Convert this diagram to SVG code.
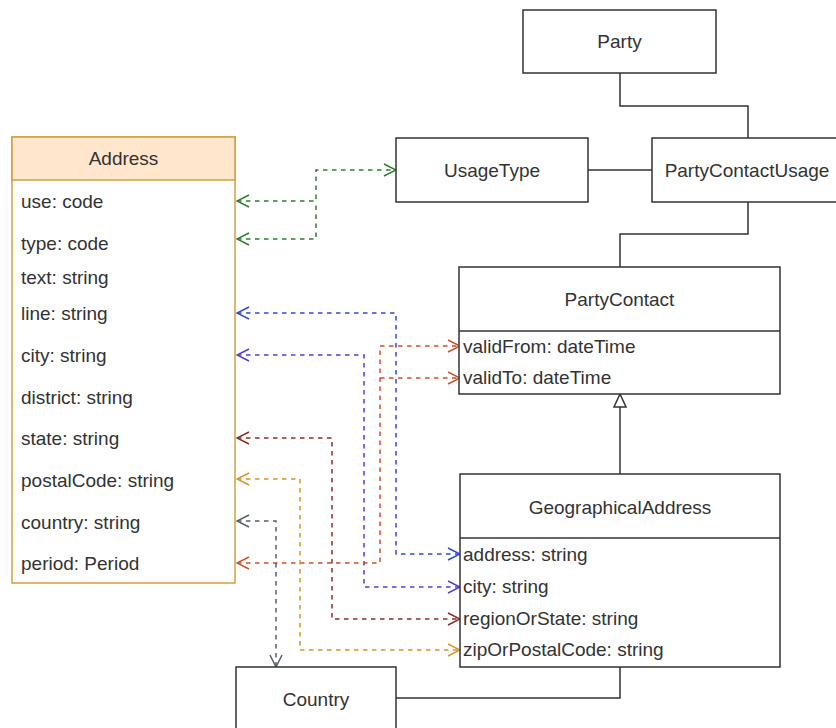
<svg xmlns="http://www.w3.org/2000/svg" width="836" height="728" viewBox="0 0 836 728">
  <style>
    .box { fill: #ffffff; stroke: #333333; stroke-width: 1.5; }
    .sep { stroke: #333333; stroke-width: 1.5; }
    .addr { fill: #ffffff; stroke: #d0a040; stroke-width: 1.5; }
    .addrHead { fill: #ffe6cc; stroke: #d0a040; stroke-width: 1.5; }
    .t { font-family: "Liberation Sans", Arial, sans-serif; font-size: 19px; fill: #333333; }
    .c { text-anchor: middle; }
    .solid { fill: none; stroke: #333333; stroke-width: 1.5; }
    .dash { fill: none; stroke-width: 1.5; stroke-dasharray: 4.5 4.5; }
  </style>
  <defs>
    <marker id="aGreen" viewBox="0 0 14 14" refX="13" refY="7" markerWidth="14" markerHeight="14" markerUnits="userSpaceOnUse" orient="auto-start-reverse"><path d="M1,1 L13,7 L1,13" fill="none" stroke="#2f7d2f" stroke-width="1.5"/></marker>
    <marker id="aBlue" viewBox="0 0 14 14" refX="13" refY="7" markerWidth="14" markerHeight="14" markerUnits="userSpaceOnUse" orient="auto-start-reverse"><path d="M1,1 L13,7 L1,13" fill="none" stroke="#3349d0" stroke-width="1.5"/></marker>
    <marker id="aViolet" viewBox="0 0 14 14" refX="13" refY="7" markerWidth="14" markerHeight="14" markerUnits="userSpaceOnUse" orient="auto-start-reverse"><path d="M1,1 L13,7 L1,13" fill="none" stroke="#5b3bd4" stroke-width="1.5"/></marker>
    <marker id="aOrange" viewBox="0 0 14 14" refX="13" refY="7" markerWidth="14" markerHeight="14" markerUnits="userSpaceOnUse" orient="auto-start-reverse"><path d="M1,1 L13,7 L1,13" fill="none" stroke="#d0502a" stroke-width="1.5"/></marker>
    <marker id="aMaroon" viewBox="0 0 14 14" refX="13" refY="7" markerWidth="14" markerHeight="14" markerUnits="userSpaceOnUse" orient="auto-start-reverse"><path d="M1,1 L13,7 L1,13" fill="none" stroke="#8f2b2b" stroke-width="1.5"/></marker>
    <marker id="aGold" viewBox="0 0 14 14" refX="13" refY="7" markerWidth="14" markerHeight="14" markerUnits="userSpaceOnUse" orient="auto-start-reverse"><path d="M1,1 L13,7 L1,13" fill="none" stroke="#d4962a" stroke-width="1.5"/></marker>
    <marker id="aSlate" viewBox="0 0 14 14" refX="13" refY="7" markerWidth="14" markerHeight="14" markerUnits="userSpaceOnUse" orient="auto-start-reverse"><path d="M1,1 L13,7 L1,13" fill="none" stroke="#52606d" stroke-width="1.5"/></marker>
  </defs>

  <rect width="836" height="728" fill="#ffffff"/>

  <!-- connectors -->
  <g id="connectors">
    <!-- solid associations -->
    <path class="solid" d="M620,73 V106 H748 V138"/>
    <path class="solid" d="M588,170 H652"/>
    <path class="solid" d="M748,202 V234 H620 V267"/>
    <path class="solid" d="M620,474 V407"/>
    <path d="M620,394 L614,407 L626,407 Z" fill="#ffffff" stroke="#333333" stroke-width="1.5"/>
    <path class="solid" d="M620,667 V698 H396"/>

    <!-- attribute mappings -->
    <path class="dash" stroke="#2f7d2f" d="M237,201 H316 V170 H396" marker-start="url(#aGreen)" marker-end="url(#aGreen)"/>
    <path class="dash" stroke="#2f7d2f" d="M237,239 H316 V201" marker-start="url(#aGreen)"/>
    <path class="dash" stroke="#3349d0" d="M237,313 H396 V554 H460" marker-start="url(#aBlue)" marker-end="url(#aBlue)"/>
    <path class="dash" stroke="#5b3bd4" d="M237,355 H364 V587 H460" marker-start="url(#aViolet)" marker-end="url(#aViolet)"/>
    <path class="dash" stroke="#d0502a" d="M237,563 H380 V346 H460" marker-start="url(#aOrange)" marker-end="url(#aOrange)"/>
    <path class="dash" stroke="#d0502a" d="M380,378 H460" marker-end="url(#aOrange)"/>
    <path class="dash" stroke="#8f2b2b" d="M237,438 H332 V619 H460" marker-start="url(#aMaroon)" marker-end="url(#aMaroon)"/>
    <path class="dash" stroke="#d4962a" d="M237,479 H300 V650 H460" marker-start="url(#aGold)" marker-end="url(#aGold)"/>
    <path class="dash" stroke="#52606d" d="M237,521 H276 V667" marker-start="url(#aSlate)" marker-end="url(#aSlate)"/>
  </g>

  <!-- Address class -->
  <g id="address">
    <rect class="addr" x="12" y="137" width="223" height="446"/>
    <rect class="addrHead" x="12" y="137" width="223" height="43"/>
    <text class="t c" x="123.5" y="165">Address</text>
    <text class="t" x="21" y="207.5">use: code</text>
    <text class="t" x="21" y="249.5">type: code</text>
    <text class="t" x="21" y="283.5">text: string</text>
    <text class="t" x="21" y="319.5">line: string</text>
    <text class="t" x="21" y="361.5">city: string</text>
    <text class="t" x="21" y="403.5">district: string</text>
    <text class="t" x="21" y="444.5">state: string</text>
    <text class="t" x="21" y="486.5">postalCode: string</text>
    <text class="t" x="21" y="528.5">country: string</text>
    <text class="t" x="21" y="569.5">period: Period</text>
  </g>

  <!-- Party -->
  <g id="party">
    <rect class="box" x="523" y="10" width="193" height="63"/>
    <text class="t c" x="619.5" y="48">Party</text>
  </g>

  <!-- UsageType -->
  <g id="usage-type">
    <rect class="box" x="396" y="138" width="192" height="64"/>
    <text class="t c" x="492" y="176.5">UsageType</text>
  </g>

  <!-- PartyContactUsage -->
  <g id="party-contact-usage">
    <rect class="box" x="652" y="138" width="190" height="64"/>
    <text class="t c" x="747" y="176.5">PartyContactUsage</text>
  </g>

  <!-- PartyContact -->
  <g id="party-contact">
    <rect class="box" x="459" y="267" width="321" height="127"/>
    <line class="sep" x1="459" y1="331" x2="780" y2="331"/>
    <text class="t c" x="619.5" y="305.5">PartyContact</text>
    <text class="t" x="463" y="352.5">validFrom: dateTime</text>
    <text class="t" x="463" y="383.5">validTo: dateTime</text>
  </g>

  <!-- GeographicalAddress -->
  <g id="geographical-address">
    <rect class="box" x="460" y="474" width="320" height="193"/>
    <line class="sep" x1="460" y1="538" x2="780" y2="538"/>
    <text class="t c" x="620" y="513.5">GeographicalAddress</text>
    <text class="t" x="463" y="560.5">address: string</text>
    <text class="t" x="463" y="592.5">city: string</text>
    <text class="t" x="463" y="624.5">regionOrState: string</text>
    <text class="t" x="463" y="655.5">zipOrPostalCode: string</text>
  </g>

  <!-- Country -->
  <g id="country">
    <rect class="box" x="236" y="667" width="160" height="64"/>
    <text class="t c" x="316" y="705.5">Country</text>
  </g>
</svg>
